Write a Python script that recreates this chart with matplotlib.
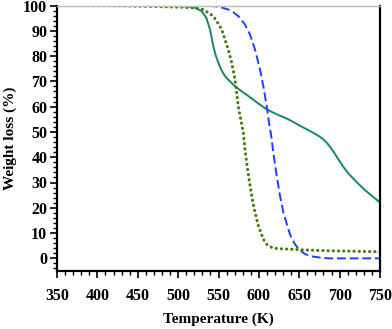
import matplotlib
matplotlib.use("Agg")
import matplotlib.pyplot as plt
from matplotlib.ticker import MultipleLocator

# Solid teal curve
T_solid = [350, 450, 500, 512, 521, 529, 535, 539.5, 543.6, 546.5, 549.8, 553.5, 558, 564, 570.4, 578, 587, 597, 609.7, 622, 636.4, 650, 660, 670, 675, 680, 685, 690, 695, 700, 705, 712, 721, 730, 740, 750]
W_solid = [100, 100, 99.9, 99.6, 99.1, 97.8, 95.1, 90.5, 83.9, 80.3, 77.4, 74.5, 72.1, 70, 68.1, 66.2, 64.2, 61.8, 58.9, 57.0, 55, 52.6, 50.9, 49.2, 48.2, 47.0, 45.4, 43.3, 40.9, 38.4, 36.0, 33.2, 30.2, 27.4, 24.7, 22.1]

# Dotted olive curve
T_dot = [350, 420, 470, 505, 522, 531.2, 537.4, 543.6, 547.8, 554, 558, 562.1, 566.3, 570.4, 574.5, 577.5, 580.7, 582.8, 584.9, 587.8, 591.1, 594.3, 599.3, 605.5, 610, 615.9, 622, 632.4, 660, 686, 720, 750]
W_dot = [100, 99.9, 99.6, 99.3, 99.0, 98.4, 97.1, 95.8, 93.8, 90.5, 86.6, 82.6, 77.4, 70.8, 60.2, 55, 49.7, 43.1, 37.9, 31.3, 24.7, 19.5, 12.9, 7.6, 5.5, 4.3, 3.9, 3.7, 3.3, 3.0, 2.8, 2.6]

# Dashed blue curve
T_dash = [350, 500, 530, 545.7, 555, 562.1, 568, 574.5, 582.8, 589, 595.2, 601.4, 605.5, 609.7, 612.5, 615, 617.9, 622.1, 626.2, 630.3, 636.4, 640, 644.7, 650, 657.1, 665, 673.6, 686, 720, 750]
W_dash = [100, 100, 99.9, 99.7, 99.1, 98.4, 97.4, 95.8, 92.5, 88.5, 82.6, 74.7, 68.1, 60.2, 53.7, 49.1, 41.8, 32.6, 24.7, 18.2, 11.6, 8.3, 5.6, 3.4, 1.7, 0.8, 0.4, 0, 0, 0]

x_ticks = [350, 400, 450, 500, 550, 600, 650, 700, 750]
y_ticks = [0, 10, 20, 30, 40, 50, 60, 70, 80, 90, 100]

plt.rcParams['font.family'] = ['Liberation Serif', 'DejaVu Serif']
plt.rcParams['font.weight'] = 'bold'

fig = plt.figure(figsize=(3.92, 3.29), dpi=100)
ax = fig.add_axes([57/392, 1-271/329, (380-57)/392, (271-5.5)/329])

ax.plot(T_solid, W_solid, color='#12876a', lw=1.4, solid_joinstyle='round')
ax.plot(T_dash, W_dash, color='#1f3dff', lw=1.4, dashes=(4.5, 2.0))
ax.plot(T_dot, W_dot, color='#4a7a10', lw=2.2, linestyle=(0, (0.1, 1.6)), dash_capstyle='round')

ax.set_xlim(350, 750)
ax.set_ylim(-5, 100)
ax.set_xticks(x_ticks)
ax.set_yticks(y_ticks)
ax.xaxis.set_minor_locator(MultipleLocator(10))
ax.yaxis.set_minor_locator(MultipleLocator(2))
ax.tick_params(which='major', direction='out', length=5, width=1.2, labelsize=11.5, pad=2)
ax.tick_params(which='minor', direction='out', length=3, width=1.0)
ax.tick_params(axis='x', pad=7)
for lab in ax.get_xticklabels() + ax.get_yticklabels():
    lab.set_fontweight('bold')

for s in ['left', 'bottom', 'right']:
    ax.spines[s].set_linewidth(1.6)
    ax.spines[s].set_color('black')
ax.spines['top'].set_linewidth(1.0)
ax.spines['top'].set_color('#bbbbbb')

ax.set_xlabel('Temperature (K)', fontsize=11, fontweight='bold')
ax.xaxis.set_label_coords(0.5, -0.155)
ax.set_ylabel('Weight loss (%)', fontsize=11, fontweight='bold')
ax.yaxis.set_label_coords(-0.125, 0.5)

fig.savefig('out.png', dpi=100)
